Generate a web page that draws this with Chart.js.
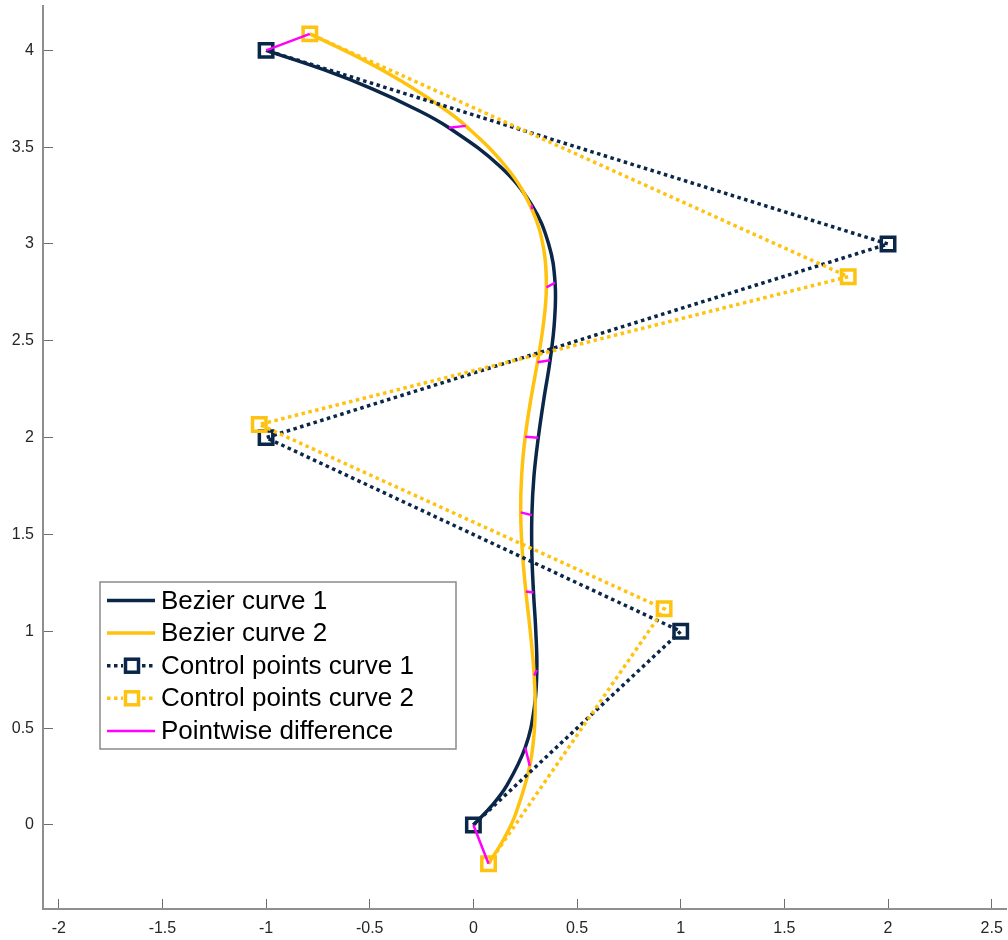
<!DOCTYPE html>
<html>
<head>
<meta charset="utf-8">
<title>Bezier curves</title>
<script src="https://cdn.jsdelivr.net/npm/chart.js@4.4.1/dist/chart.umd.min.js"></script>
<style>
    html, body { margin: 0; padding: 0; background: #fff; }
    canvas { display: block; }
</style>
</head>
<body>
<canvas id="bezierChart" width="1008" height="940"></canvas>
<script>
// valores del parametro t donde se muestrearon las curvas
const curveT = [0, 0.025, 0.05, 0.1, 0.15, 0.2, 0.25, 0.3, 0.35, 0.4, 0.45, 0.5,
    0.55, 0.6, 0.65, 0.7, 0.75, 0.8, 0.85, 0.9, 0.925, 0.95, 0.975, 1];

const curve1X = [0, 0.089, 0.159, 0.250, 0.293, 0.306, 0.301, 0.290, 0.282, 0.282, 0.292, 0.313,
    0.340, 0.370, 0.391, 0.394, 0.363, 0.282, 0.129, -0.118, -0.285, -0.485, -0.722, -1];
const curve1Y = [0, 0.1, 0.2, 0.4, 0.6, 0.8, 1.0, 1.2, 1.4, 1.6, 1.8, 2.0,
    2.2, 2.4, 2.6, 2.8, 3.0, 3.2, 3.4, 3.6, 3.7, 3.8, 3.9, 4.0];

const curve2X = [0.073, 0.148, 0.204, 0.272, 0.297, 0.293, 0.275, 0.253, 0.236, 0.228, 0.233, 0.250,
    0.277, 0.309, 0.337, 0.352, 0.339, 0.282, 0.164, -0.037, -0.177, -0.346, -0.549, -0.789];
const curve2Y = [-0.2, -0.070, 0.058, 0.305, 0.543, 0.772, 0.992, 1.206, 1.413, 1.614, 1.811, 2.005,
    2.197, 2.389, 2.581, 2.776, 2.975, 3.179, 3.390, 3.610, 3.724, 3.841, 3.961, 4.085];

// puntos de control
const ctrl1X = [0, 1, -1, 2, -1];
const ctrl1Y = [0, 1, 2, 3, 4];
const ctrl2X = [0.073, 0.92, -1.033, 1.808, -0.789];
const ctrl2Y = [-0.2, 1.116, 2.068, 2.831, 4.085];

const xTicks = [-2, -1.5, -1, -0.5, 0, 0.5, 1, 1.5, 2, 2.5];
const yTicks = [0, 0.5, 1, 1.5, 2, 2.5, 3, 3.5, 4];

const seriesLabels = ['Bezier curve 1', 'Bezier curve 2', 'Control points curve 1',
    'Control points curve 2', 'Pointwise difference'];

const NAVY = '#0a2648';
const GOLD = '#ffc20e';
const MAGENTA = '#ff00ff';

function toPoints(xs, ys) {
    return xs.map((x, i) => ({ x: x, y: ys[i] }));
}

// segmentos entre curva 1 y curva 2 en t = 0, 0.1, ..., 1
function diffPoints() {
    const pts = [];
    curveT.forEach((t, i) => {
        if (Math.abs(t * 10 - Math.round(t * 10)) < 1e-9) {
            pts.push({ x: curve1X[i], y: curve1Y[i] });
            pts.push({ x: curve2X[i], y: curve2Y[i] });
            pts.push({ x: null, y: null });
        }
    });
    return pts;
}

// sin margenes extra por las etiquetas de los extremos
function fixScale(scale, size) {
    if (scale.isHorizontal()) {
        scale.height = size;
    } else {
        scale.width = size;
    }
    scale.paddingTop = 0;
    scale.paddingBottom = 0;
    scale.paddingLeft = 0;
    scale.paddingRight = 0;
}

// leyenda dentro del area del grafico (abajo a la izquierda)
const legendBox = {
    id: 'legendBox',
    afterDraw(chart) {
        const ctx = chart.ctx;
        const area = chart.chartArea;
        const left = area.left + 57;
        const top = area.bottom - 327;
        const w = 356, h = 167;
        ctx.save();
        ctx.fillStyle = '#fff';
        ctx.fillRect(left, top, w, h);
        ctx.strokeStyle = '#8a8a8a';
        ctx.lineWidth = 1.5;
        ctx.strokeRect(left, top, w, h);

        chart.data.datasets.forEach((ds, i) => {
            const y = top + 18.5 + i * 32.6;
            ctx.setLineDash(ds.borderDash || []);
            ctx.strokeStyle = ds.borderColor;
            ctx.lineWidth = ds.borderWidth;
            ctx.beginPath();
            ctx.moveTo(left + 7, y);
            ctx.lineTo(left + 55, y);
            ctx.stroke();
            if (ds.pointRadius > 0) {
                ctx.setLineDash([]);
                ctx.lineWidth = 3.5;
                ctx.fillStyle = '#fff';
                ctx.fillRect(left + 23, y - 8, 18, 16);
                ctx.strokeRect(left + 25.5, y - 6.5, 13, 13);
            }
            ctx.setLineDash([]);
            ctx.fillStyle = '#000';
            ctx.font = '26px "Liberation Sans", Arial, sans-serif';
            ctx.textBaseline = 'middle';
            ctx.textAlign = 'left';
            ctx.fillText(ds.label, left + 61, y + 1);
        });
        ctx.restore();
    }
};

const ctx = document.getElementById('bezierChart').getContext('2d');
new Chart(ctx, {
    type: 'scatter',
    data: {
        datasets: [
            {
                label: seriesLabels[0],
                data: toPoints(curve1X, curve1Y),
                showLine: true,
                borderColor: NAVY,
                borderWidth: 3.5,
                pointRadius: 0,
                tension: 0.4,
                order: 5
            },
            {
                label: seriesLabels[1],
                data: toPoints(curve2X, curve2Y),
                showLine: true,
                borderColor: GOLD,
                borderWidth: 3.5,
                pointRadius: 0,
                tension: 0.4,
                order: 4
            },
            {
                label: seriesLabels[2],
                data: toPoints(ctrl1X, ctrl1Y),
                showLine: true,
                borderColor: NAVY,
                borderWidth: 3.5,
                borderDash: [3.5, 3.5],
                pointStyle: 'rect',
                pointRadius: 9.5,
                pointBorderWidth: 3.5,
                pointBorderColor: NAVY,
                pointBackgroundColor: 'rgba(0,0,0,0)',
                order: 3
            },
            {
                label: seriesLabels[3],
                data: toPoints(ctrl2X, ctrl2Y),
                showLine: true,
                borderColor: GOLD,
                borderWidth: 3.5,
                borderDash: [3.5, 3.5],
                pointStyle: 'rect',
                pointRadius: 9.5,
                pointBorderWidth: 3.5,
                pointBorderColor: GOLD,
                pointBackgroundColor: 'rgba(0,0,0,0)',
                order: 2
            },
            {
                label: seriesLabels[4],
                data: diffPoints(),
                showLine: true,
                spanGaps: false,
                borderColor: MAGENTA,
                borderWidth: 2.5,
                pointRadius: 0,
                order: 1
            }
        ]
    },
    options: {
        responsive: false,
        animation: false,
        clip: false,
        layout: { autoPadding: false, padding: { top: 6, right: 2, left: 0, bottom: 0 } },
        plugins: {
            legend: { display: false },
            tooltip: { enabled: false }
        },
        scales: {
            x: {
                type: 'linear',
                min: -2.076,
                max: 2.569,
                afterBuildTicks: (scale) => { scale.ticks = xTicks.map(v => ({ value: v })); },
                afterFit: (scale) => fixScale(scale, 31),
                grid: { drawOnChartArea: false, drawTicks: true, tickLength: -10, color: '#6f6f6f', lineWidth: 1 },
                border: { display: true, color: '#8f8f8f', width: 2 },
                ticks: {
                    padding: 20,
                    color: '#262626',
                    font: { family: '"Liberation Sans", Arial, sans-serif', size: 16 },
                    maxRotation: 0,
                    autoSkip: false,
                    callback: (v) => String(v)
                }
            },
            y: {
                type: 'linear',
                min: -0.434,
                max: 4.229,
                afterBuildTicks: (scale) => { scale.ticks = yTicks.map(v => ({ value: v })); },
                afterFit: (scale) => fixScale(scale, 43),
                grid: { drawOnChartArea: false, drawTicks: true, tickLength: -10, color: '#6f6f6f', lineWidth: 1 },
                border: { display: true, color: '#8f8f8f', width: 2 },
                ticks: {
                    padding: 19,
                    color: '#262626',
                    font: { family: '"Liberation Sans", Arial, sans-serif', size: 16 },
                    autoSkip: false,
                    callback: (v) => String(v)
                }
            }
        }
    },
    plugins: [legendBox]
});
</script>
</body>
</html>
